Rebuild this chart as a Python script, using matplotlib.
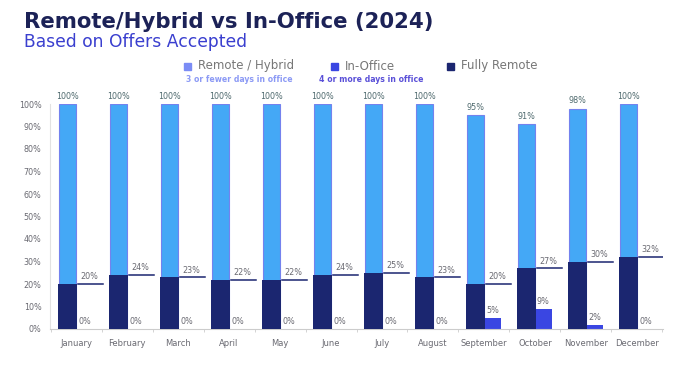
import matplotlib
matplotlib.use("Agg")
import matplotlib.pyplot as plt
import numpy as np

months = ["January", "February", "March", "April", "May", "June", "July",
          "August", "September", "October", "November", "December"]
remote_hybrid = [100, 100, 100, 100, 100, 100, 100, 100, 95, 91, 98, 100]
in_office = [0, 0, 0, 0, 0, 0, 0, 0, 5, 9, 2, 0]
fully_remote = [20, 24, 23, 22, 22, 24, 25, 23, 20, 27, 30, 32]
yticks = [0, 10, 20, 30, 40, 50, 60, 70, 80, 90, 100]

C_RH = "#44a8f6"
C_RH_EDGE = "#7482ee"
C_RH_LEG = "#7b8cf5"
C_IO = "#3a46e2"
C_FR = "#1b2670"
C_TXT = "#6a6a72"
C_LBL = "#4f6a6e"

plt.rcParams['font.family'] = ['DejaVu Sans']

fig = plt.figure(figsize=(6.92, 3.89), dpi=100)
ax = fig.add_axes([50/692, (389-329)/389, (663-50)/692, (329-104)/389])

x = np.arange(len(months))
w = 0.33
ax.bar(x - w/2, remote_hybrid, width=w, color=C_RH, edgecolor=C_RH_EDGE, linewidth=0.8, zorder=2)
ax.bar(x + w/2, in_office, width=w, color=C_IO, zorder=2)
ax.bar(x - 0.16, fully_remote, width=0.37, color=C_FR, zorder=3)

for i in range(len(months)):
    ax.text(x[i] - w/2, remote_hybrid[i] + 1.5, f"{remote_hybrid[i]}%", ha="center", va="bottom",
            fontsize=5.8, color=C_LBL, clip_on=False)
    ax.plot([x[i] + 0.03, x[i] + 0.52], [fully_remote[i], fully_remote[i]], color=C_FR, lw=1.1, zorder=4)
    ax.text(x[i] + 0.27, fully_remote[i] + 1.2, f"{fully_remote[i]}%", ha="center", va="bottom",
            fontsize=5.8, color=C_TXT)
    ax.text(x[i] + w/2, in_office[i] + 1.2, f"{in_office[i]}%", ha="center", va="bottom",
            fontsize=5.8, color=C_TXT)

ax.set_xlim(-0.51, 11.51)
ax.set_ylim(0, 100)
ax.set_yticks(yticks)
ax.set_yticklabels([f"{t}%" for t in yticks], fontsize=5.8, color=C_TXT)
ax.set_xticks(x)
ax.set_xticklabels(months, fontsize=6, color=C_TXT)
ax.tick_params(axis="y", length=0, pad=6)
ax.tick_params(axis="x", length=0, pad=7)
ax.set_xticks(np.arange(-0.5, 12, 1), minor=True)
ax.tick_params(axis="x", which="minor", length=2, color="#cccccc", direction="out")
for s in ["top", "right"]:
    ax.spines[s].set_visible(False)
ax.spines["left"].set_color("#e2e2e2")
ax.spines["left"].set_linewidth(0.8)
ax.spines["bottom"].set_color("#cccccc")
ax.spines["bottom"].set_linewidth(0.8)

fig.text(24/692, 1 - 22/389, "Remote/Hybrid vs In-Office (2024)", fontsize=15.3, fontweight="bold",
         color="#1c2257", va="center", ha="left")
fig.text(24/692, 1 - 42/389, "Based on Offers Accepted", fontsize=12.3, color="#3a3fcf",
         va="center", ha="left")

# legend
def leg(xp, color, label):
    fig.patches.append(plt.Rectangle((xp/692, 1 - 70/389), 7/692, 7/389, transform=fig.transFigure,
                                     color=color, figure=fig))
    fig.text((xp + 14)/692, 1 - 66/389, label, fontsize=8.5, color="#777777", va="center", ha="left")

leg(184, C_RH_LEG, "Remote / Hybrid")
leg(331, C_IO, "In-Office")
leg(447, C_FR, "Fully Remote")
fig.text(239/692, 1 - 80/389, "3 or fewer days in office", fontsize=5.6, fontweight="bold",
         color="#8c9af5", va="center", ha="center")
fig.text(371/692, 1 - 80/389, "4 or more days in office", fontsize=5.6, fontweight="bold",
         color="#5a50d8", va="center", ha="center")

fig.savefig("out.png", dpi=100)
